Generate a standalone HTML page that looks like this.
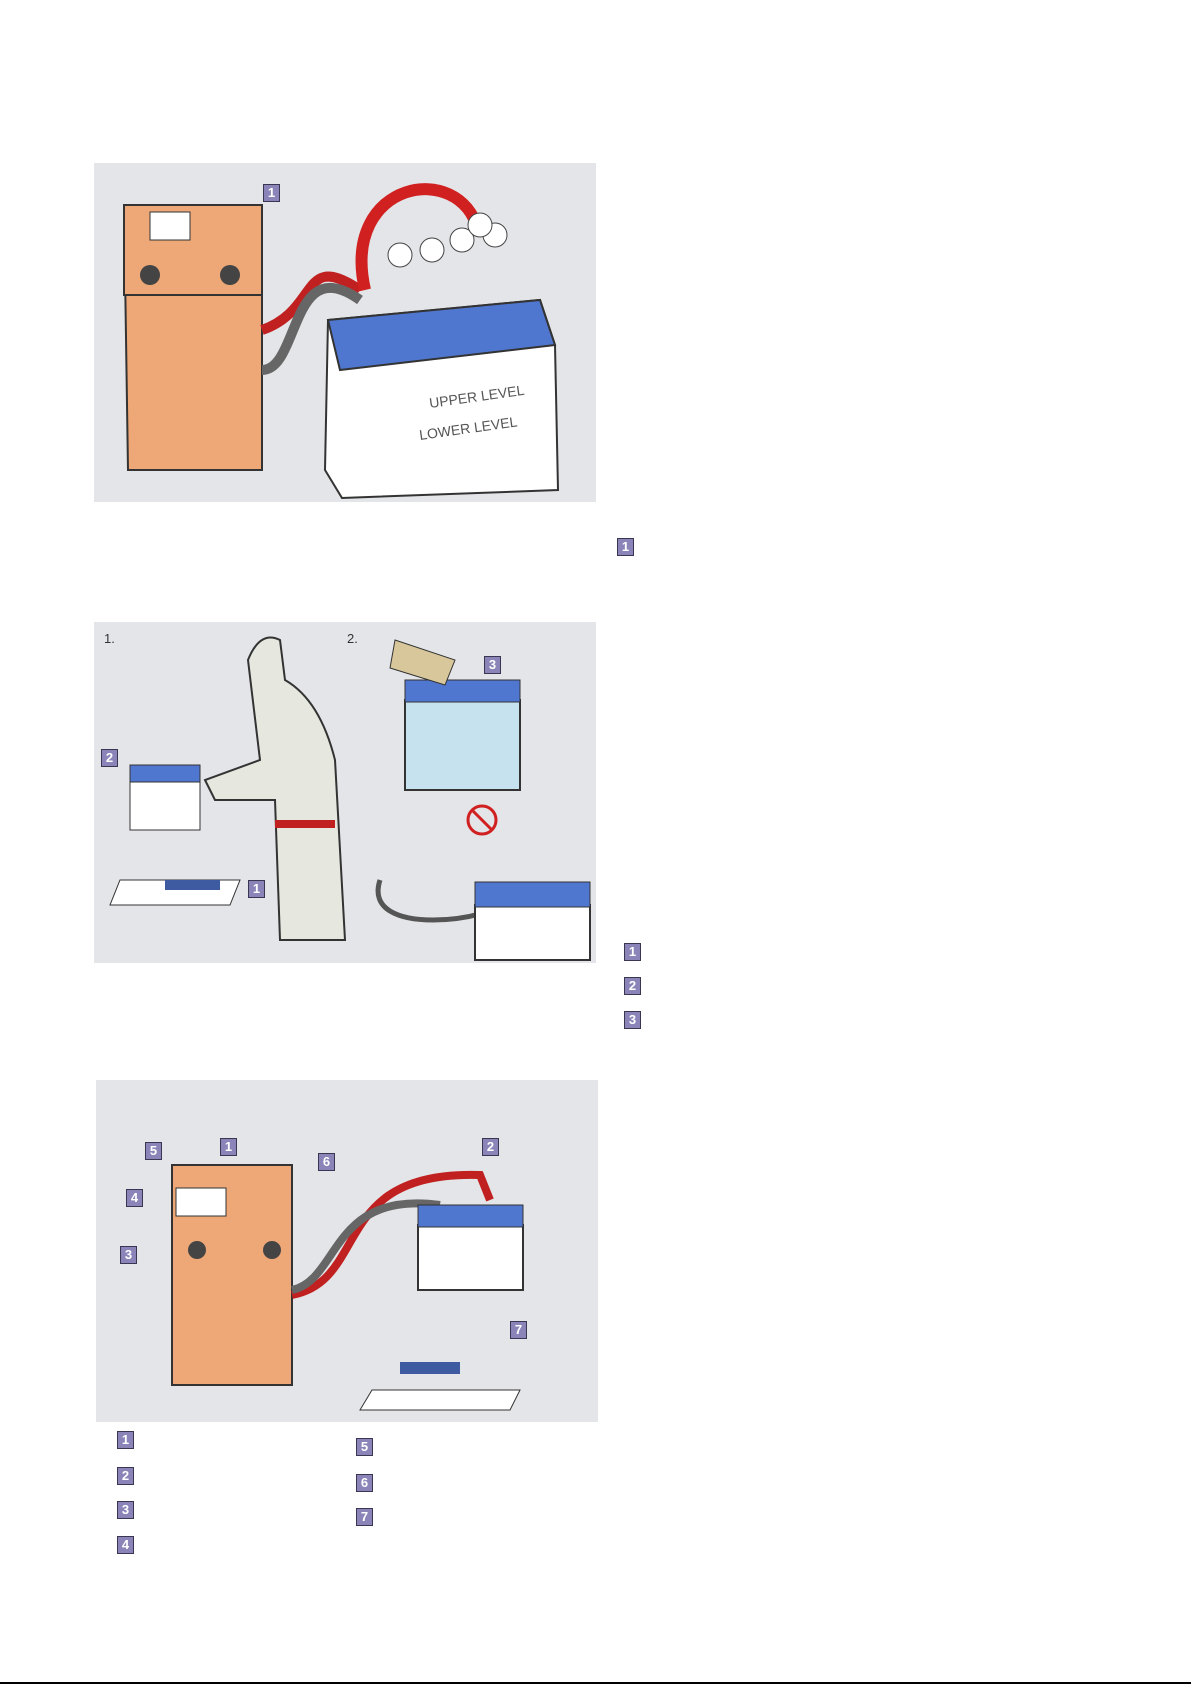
<!DOCTYPE html>
<html><head><style>
body{margin:0;width:1191px;height:1685px;background:#fff;position:relative;overflow:hidden;font-family:"Liberation Sans",sans-serif}
.p{position:absolute;background:#e4e5e8}
.b{position:absolute;width:15px;height:16px;background:#8b84b9;border:1px solid #3a3550;color:#fff;font:bold 13px "Liberation Sans",sans-serif;text-align:center;line-height:16px}
svg{position:absolute;left:0;top:0}
</style></head><body>
<div class="p" style="left:94px;top:163px;width:502px;height:339px"></div>
<div class="p" style="left:94px;top:622px;width:502px;height:341px"></div>
<div class="p" style="left:96px;top:1080px;width:502px;height:342px"></div>
<svg width="1191" height="1685">
<!-- panel 1 -->
<path d="M124 205 L256 205 L262 212 L262 470 L128 470 Z" fill="#eea877" stroke="#333" stroke-width="2"/>
<rect x="124" y="205" width="138" height="90" fill="#eea877" stroke="#333" stroke-width="2"/>
<rect x="150" y="212" width="40" height="28" fill="#fff" stroke="#333"/>
<circle cx="150" cy="275" r="10" fill="#444"/><circle cx="230" cy="275" r="10" fill="#444"/>
<path d="M262 330 C320 310 300 250 360 290" stroke="#c02020" stroke-width="10" fill="none"/>
<path d="M262 370 C300 370 290 250 360 300" stroke="#666" stroke-width="10" fill="none"/>
<path d="M365 290 C340 180 460 160 478 230" stroke="#d02020" stroke-width="12" fill="none"/>
<path d="M328 320 L540 300 L555 345 L558 490 L342 498 L325 470 Z" fill="#fff" stroke="#333" stroke-width="2"/>
<path d="M328 320 L540 300 L555 345 L340 370 Z" fill="#5077d0" stroke="#333" stroke-width="2"/>
<g fill="#fff" stroke="#444"><circle cx="400" cy="255" r="12"/><circle cx="432" cy="250" r="12"/><circle cx="462" cy="240" r="12"/><circle cx="495" cy="235" r="12"/><circle cx="480" cy="225" r="12"/></g>
<text x="430" y="408" font-size="14" fill="#555" transform="rotate(-8 430 408)">UPPER LEVEL</text>
<text x="420" y="440" font-size="14" fill="#555" transform="rotate(-8 420 440)">LOWER LEVEL</text>
<!-- panel 2 -->
<text x="104" y="643" font-size="13" fill="#333">1.</text>
<text x="347" y="643" font-size="13" fill="#333">2.</text>
<path d="M248 660 Q260 630 280 640 L285 680 Q320 700 335 760 L345 940 L280 940 L275 800 L215 800 L205 780 L260 760 Z" fill="#e6e8e0" stroke="#333" stroke-width="2"/>
<rect x="275" y="820" width="60" height="8" fill="#c02020"/>
<rect x="130" y="780" width="70" height="50" fill="#fff" stroke="#333"/>
<rect x="130" y="765" width="70" height="17" fill="#5077d0" stroke="#333"/>
<path d="M120 880 L240 880 L230 905 L110 905 Z" fill="#fff" stroke="#333"/>
<rect x="165" y="880" width="55" height="10" fill="#3e5aa0"/>
<rect x="405" y="700" width="115" height="90" fill="#c7e2ef" stroke="#333" stroke-width="2"/>
<rect x="405" y="680" width="115" height="22" fill="#5077d0" stroke="#333"/>
<path d="M395 640 L455 660 L445 685 L390 668 Z" fill="#d8c79a" stroke="#333"/>
<circle cx="482" cy="820" r="14" fill="none" stroke="#d02020" stroke-width="3"/>
<line x1="472" y1="810" x2="492" y2="830" stroke="#d02020" stroke-width="3"/>
<path d="M380 880 C360 940 500 920 505 900" stroke="#555" stroke-width="5" fill="none"/>
<rect x="475" y="905" width="115" height="55" fill="#fff" stroke="#333" stroke-width="2"/>
<rect x="475" y="882" width="115" height="25" fill="#5077d0" stroke="#333"/>
<!-- panel 3 -->
<rect x="172" y="1165" width="120" height="220" fill="#eea877" stroke="#333" stroke-width="2"/>
<rect x="176" y="1188" width="50" height="28" fill="#fff" stroke="#333"/>
<circle cx="197" cy="1250" r="9" fill="#444"/><circle cx="272" cy="1250" r="9" fill="#444"/>
<path d="M292 1295 C370 1280 330 1170 480 1175 L490 1200" stroke="#c02020" stroke-width="8" fill="none"/>
<path d="M292 1290 C340 1280 330 1190 440 1205" stroke="#666" stroke-width="8" fill="none"/>
<rect x="418" y="1225" width="105" height="65" fill="#fff" stroke="#333" stroke-width="2"/>
<rect x="418" y="1205" width="105" height="22" fill="#5077d0" stroke="#333"/>
<path d="M372 1390 L520 1390 L510 1410 L360 1410 Z" fill="#fff" stroke="#333"/>
<rect x="400" y="1362" width="60" height="12" fill="#3e5aa0"/>
<line x1="0" y1="1683" x2="1191" y2="1683" stroke="#000" stroke-width="2"/>
</svg>
<div class="b" style="left:263px;top:184px">1</div>
<div class="b" style="left:617px;top:538px">1</div>
<div class="b" style="left:101px;top:749px">2</div>
<div class="b" style="left:248px;top:880px">1</div>
<div class="b" style="left:484px;top:656px">3</div>
<div class="b" style="left:624px;top:943px">1</div>
<div class="b" style="left:624px;top:977px">2</div>
<div class="b" style="left:624px;top:1011px">3</div>
<div class="b" style="left:145px;top:1142px">5</div>
<div class="b" style="left:220px;top:1138px">1</div>
<div class="b" style="left:318px;top:1153px">6</div>
<div class="b" style="left:126px;top:1189px">4</div>
<div class="b" style="left:120px;top:1246px">3</div>
<div class="b" style="left:482px;top:1138px">2</div>
<div class="b" style="left:510px;top:1321px">7</div>
<div class="b" style="left:117px;top:1431px">1</div>
<div class="b" style="left:117px;top:1467px">2</div>
<div class="b" style="left:117px;top:1501px">3</div>
<div class="b" style="left:117px;top:1536px">4</div>
<div class="b" style="left:356px;top:1438px">5</div>
<div class="b" style="left:356px;top:1474px">6</div>
<div class="b" style="left:356px;top:1508px">7</div>
</body></html>
